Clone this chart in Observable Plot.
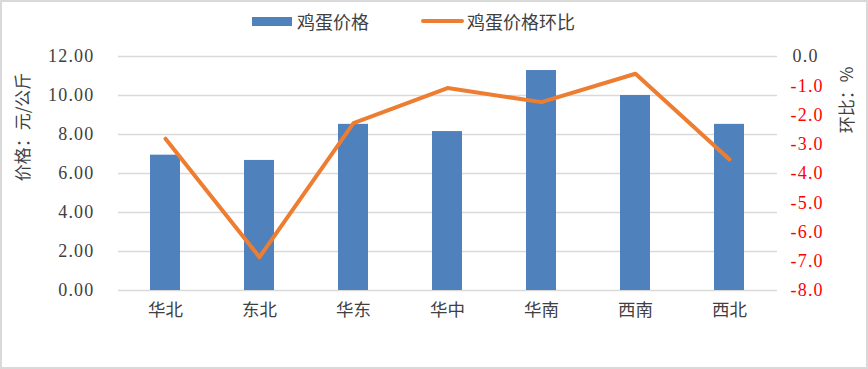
<!DOCTYPE html>
<html>
<head>
<meta charset="utf-8">
<script src="https://cdn.jsdelivr.net/npm/d3@7"></script>
<script src="https://cdn.jsdelivr.net/npm/@observablehq/plot@0.6"></script>
<style>
  body { margin: 0; background: #fff; }
  #wrap { position: relative; width: 868px; height: 369px; overflow: hidden; background: #fff;
          font-family: "Noto Sans CJK SC", sans-serif; }
  #border { position: absolute; left: 0; top: 0; width: 868px; height: 369px; box-sizing: border-box;
            border: 2px solid #d9d9d9; pointer-events: none; }
  .lg { position: absolute; font-size: 18px; color: #404040; line-height: 20px; white-space: nowrap; }
  .ylab { position: absolute; font-size: 17px; color: #404040; white-space: nowrap; line-height: 20px;
          transform: translate(-50%, -50%) rotate(-90deg); }
  #chart { position: absolute; left: 0; top: 36px; }
</style>
</head>
<body>
<div id="wrap">
  <div style="position:absolute;left:252px;top:17px;width:40px;height:9px;background:#4F81BD"></div>
  <div class="lg" style="left:297px;top:11px">鸡蛋价格</div>
  <div style="position:absolute;left:421px;top:19px;width:43px;height:4px;border-radius:2px;background:#ED7D31"></div>
  <div class="lg" style="left:467px;top:11px">鸡蛋价格环比</div>
  <div class="ylab" style="left:22px;top:127px">价格：元/公斤</div>
  <div class="ylab" style="left:846px;top:100px">环比：%</div>
  <div id="chart"></div>
  <div id="border"></div>
</div>
<script>
const regions = ["华北", "东北", "华东", "华中", "华南", "西南", "西北"];
const prices = [6.94, 6.67, 8.52, 8.15, 11.28, 10.0, 8.52];
const changes = [-2.81, -6.86, -2.28, -1.08, -1.56, -0.59, -3.52];
const leftTicks = [0, 2, 4, 6, 8, 10, 12];
const rightTicks = [0, -1, -2, -3, -4, -5, -6, -7, -8];

// right axis domain [-8, 0] mapped onto left domain [0, 12]
const toLeft = v => (v + 8) * 12 / 8;
const fromLeft = y => y * 8 / 12 - 8;

const barData = regions.map((r, i) => ({region: r, price: prices[i]}));
const lineData = regions.map((r, i) => ({region: r, change: changes[i]}));

const numFont = { fontFamily: "'Liberation Serif', 'Noto Sans CJK SC', serif", fontSize: 18 };
const fmtR = v => (v < 0 ? "-" : "") + Math.abs(v).toFixed(1);

const chart = Plot.plot({
  width: 868,
  height: 333,
  marginTop: 20,
  marginBottom: 79,
  marginLeft: 118,
  marginRight: 91,
  style: { fontFamily: "'Noto Sans CJK SC', sans-serif", fontSize: "17px", color: "#404040", background: "transparent" },
  x: { domain: regions, paddingInner: 0.68, paddingOuter: 0.34, label: null },
  y: { domain: [0, 12], label: null },
  marks: [
    Plot.ruleY(leftTicks, { stroke: "#d9d9d9", strokeWidth: 1.4 }),
    Plot.barY(barData, { x: "region", y: "price", fill: "#4F81BD" }),
    Plot.line(lineData, { x: "region", y: d => toLeft(d.change), stroke: "#ED7D31", strokeWidth: 4,
      strokeLinecap: "round", strokeLinejoin: "round" }),
    Plot.axisX({ tickSize: 0, tickPadding: 13, fontSize: 17.5, fill: "#404040", label: null }),
    Plot.axisY({ ticks: leftTicks, tickFormat: d => d.toFixed(2), tickSize: 0, tickPadding: 24,
      fill: "#404040", label: null, ...numFont }),
    Plot.axisY({ anchor: "right", ticks: rightTicks.filter(v => v === 0).map(toLeft),
      tickFormat: y => fmtR(fromLeft(y)), tickSize: 0, tickPadding: 15, fill: "#404040", label: null, ...numFont }),
    Plot.axisY({ anchor: "right", ticks: rightTicks.filter(v => v !== 0).map(toLeft),
      tickFormat: y => fmtR(fromLeft(y)), tickSize: 0, tickPadding: 13, fill: "#ff0000", label: null, ...numFont })
  ]
});
chart.querySelectorAll("[aria-label^='y-axis'] text").forEach(t => t.setAttribute("letter-spacing", "1.2"));
document.getElementById("chart").appendChild(chart);
</script>
</body>
</html>
